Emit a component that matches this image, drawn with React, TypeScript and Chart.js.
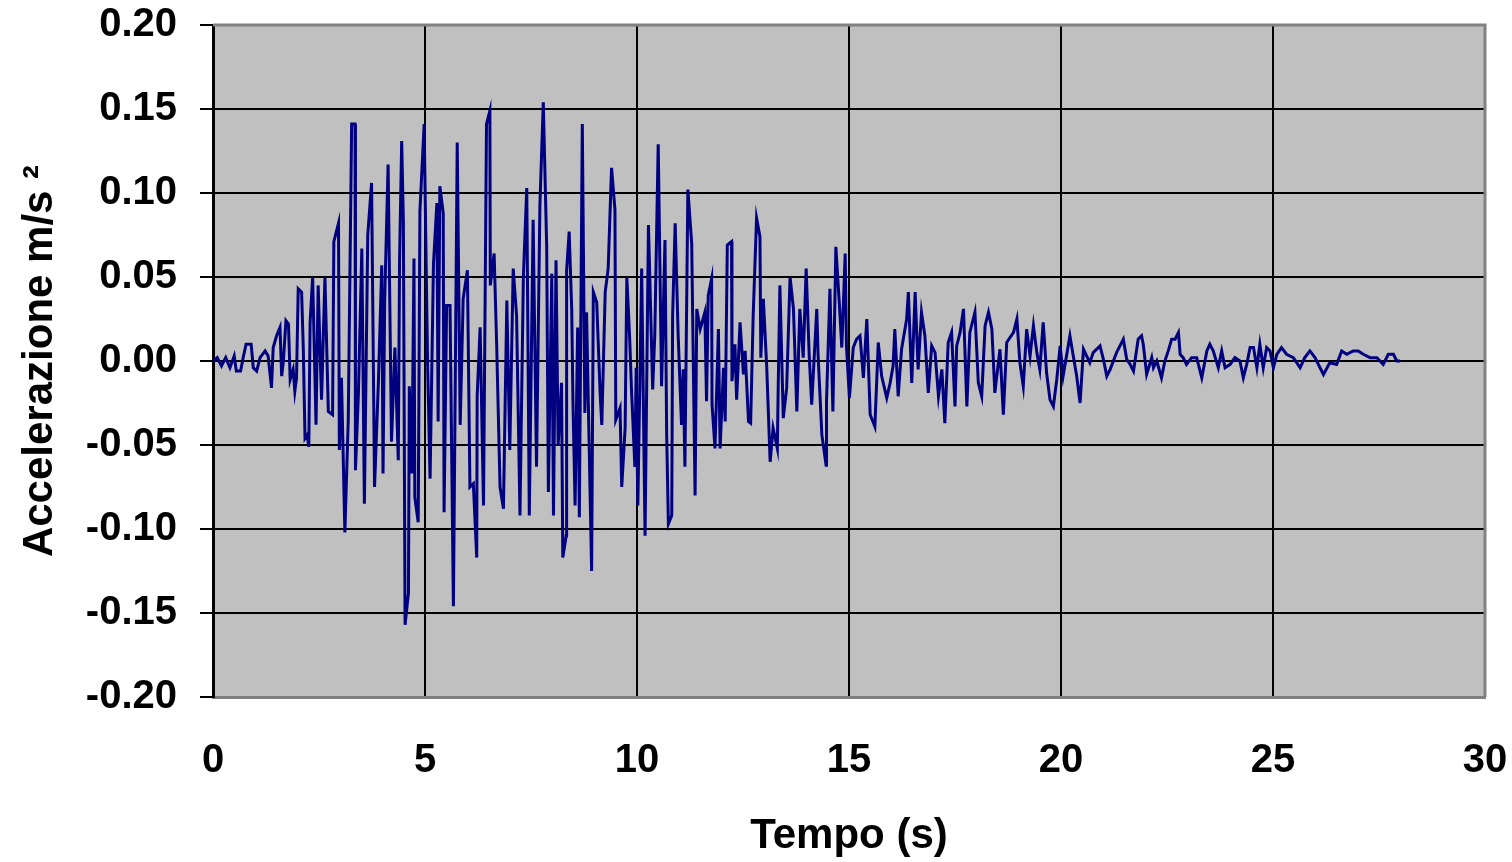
import { useEffect, useRef } from "react";
import { Chart, registerables } from "chart.js";

Chart.register(...registerables);

const FONT = "'Liberation Sans', Arial, Helvetica, sans-serif";

// Accelerogramma: coppie [tempo (s), accelerazione (m/s²)], suddivise per fase.
const quieteIniziale: [number, number][] = [
  [0.0, 0.0], [0.1, 0.002], [0.2, -0.003], [0.3, 0.002], [0.4, -0.004], [0.5, 0.003],
  [0.55, -0.006], [0.65, -0.006], [0.72, 0.003], [0.78, 0.01], [0.9, 0.01], [0.95, -0.004],
  [1.03, -0.006], [1.11, 0.002], [1.23, 0.006], [1.3, 0.003], [1.38, -0.016], [1.42, 0.008],
  [1.5, 0.015], [1.58, 0.02], [1.62, -0.009], [1.66, 0.0], [1.72, 0.024], [1.78, 0.022],
  [1.82, -0.011], [1.89, -0.005], [1.93, -0.018], [1.97, -0.01],
];

const arrivoOnde: [number, number][] = [
  [2.01, 0.043], [2.09, 0.041], [2.13, 0.007], [2.17, -0.046], [2.22, -0.044], [2.26, -0.051],
  [2.29, 0.023], [2.35, 0.05], [2.43, -0.038], [2.48, 0.045], [2.56, -0.023], [2.64, 0.05],
  [2.72, -0.03], [2.82, -0.032], [2.85, 0.071], [2.96, 0.082], [2.98, -0.053], [3.03, -0.01],
  [3.11, -0.102], [3.19, -0.035], [3.27, 0.141], [3.35, 0.141], [3.36, -0.065], [3.43, -0.019],
  [3.51, 0.067], [3.57, -0.085], [3.65, 0.075], [3.74, 0.106], [3.81, -0.075], [3.9, -0.013],
];

const faseForte1: [number, number][] = [
  [3.98, 0.057], [4.01, -0.067], [4.05, 0.037], [4.13, 0.117], [4.21, -0.048], [4.29, 0.008],
  [4.37, -0.059], [4.4, 0.06], [4.45, 0.131], [4.49, 0.083], [4.53, -0.157], [4.61, -0.138],
  [4.63, -0.015], [4.69, -0.067], [4.74, 0.061], [4.76, -0.081], [4.84, -0.096], [4.88, 0.089],
  [4.98, 0.141], [5.06, 0.0], [5.12, -0.07], [5.2, 0.058], [5.28, 0.094], [5.31, -0.036],
  [5.35, 0.104], [5.43, 0.088], [5.45, -0.09], [5.51, 0.033], [5.59, 0.033], [5.67, -0.146],
  [5.76, 0.13], [5.83, -0.038], [5.9, 0.037], [6.0, 0.054], [6.06, -0.075], [6.14, -0.073],
  [6.22, -0.117], [6.23, -0.021], [6.3, 0.02], [6.38, -0.086], [6.45, 0.141], [6.53, 0.149],
  [6.54, 0.045], [6.63, 0.064], [6.69, 0.01], [6.77, -0.075], [6.85, -0.088], [6.93, 0.036],
  [7.0, -0.053], [7.08, 0.055], [7.16, 0.027], [7.24, -0.092], [7.32, 0.05], [7.4, 0.103],
  [7.46, -0.092], [7.55, 0.084], [7.63, -0.063], [7.71, 0.093],
];

const faseForte2: [number, number][] = [
  [7.79, 0.154], [7.87, 0.068], [7.91, -0.078], [7.99, 0.052], [8.03, -0.092], [8.09, 0.06],
  [8.14, -0.05], [8.22, -0.013], [8.25, -0.117], [8.33, -0.104], [8.34, 0.054], [8.4, 0.077],
  [8.46, 0.031], [8.49, -0.025], [8.54, -0.086], [8.6, 0.02], [8.64, -0.093], [8.71, 0.141],
  [8.77, -0.031], [8.81, 0.029], [8.93, -0.125], [8.97, 0.041], [9.05, 0.035], [9.13, -0.019],
  [9.17, -0.038], [9.25, 0.041], [9.32, 0.055], [9.4, 0.115], [9.48, 0.09], [9.5, -0.035],
  [9.6, -0.028], [9.64, -0.075], [9.72, -0.04], [9.76, 0.05], [9.83, 0.012], [9.87, -0.017],
  [9.95, -0.063], [9.98, -0.004], [10.02, -0.086], [10.11, 0.055], [10.19, -0.104], [10.27, 0.081],
  [10.37, -0.017], [10.42, 0.016], [10.5, 0.129], [10.58, -0.015], [10.66, 0.072], [10.7, -0.044],
  [10.74, -0.097], [10.82, -0.092], [10.84, 0.027], [10.9, 0.082], [10.97, 0.016], [11.05, -0.038],
  [11.09, -0.005], [11.13, -0.063], [11.2, 0.102], [11.29, 0.07], [11.37, -0.08],
];

const faseMedia: [number, number][] = [
  [11.41, 0.031], [11.49, 0.019], [11.6, 0.029], [11.64, -0.024], [11.68, 0.039], [11.76, 0.049],
  [11.77, -0.026], [11.84, -0.052], [11.92, 0.019], [11.96, -0.052], [12.04, -0.004], [12.08, -0.036],
  [12.13, 0.069], [12.23, 0.071], [12.24, -0.012], [12.31, 0.01], [12.35, -0.023], [12.43, 0.023],
  [12.51, -0.008], [12.55, 0.006], [12.63, -0.036], [12.68, -0.037], [12.74, 0.027], [12.82, 0.085],
  [12.9, 0.074], [12.92, 0.002], [12.98, 0.037], [13.06, -0.004], [13.14, -0.06], [13.21, -0.04],
  [13.31, -0.052], [13.33, -0.016], [13.37, 0.045], [13.45, -0.034], [13.53, -0.016], [13.61, 0.05],
  [13.69, 0.031], [13.77, -0.03], [13.84, 0.031], [13.92, 0.002], [13.99, 0.055], [14.06, 0.004],
  [14.12, -0.026], [14.24, 0.031], [14.27, 0.004], [14.36, -0.044], [14.46, -0.062], [14.47, -0.024],
  [14.55, 0.043], [14.62, -0.03], [14.69, 0.068], [14.77, 0.035], [14.83, 0.008], [14.91, 0.064],
  [14.94, 0.009], [15.01, -0.022], [15.1, 0.008], [15.18, 0.013], [15.26, 0.015], [15.34, -0.01],
  [15.42, 0.025], [15.5, -0.032],
];

const coda: [number, number][] = [
  [15.61, -0.039], [15.69, 0.011], [15.77, -0.009], [15.89, -0.022], [15.97, -0.013], [16.04, -0.003],
  [16.08, 0.019], [16.16, -0.021], [16.24, 0.007], [16.36, 0.025], [16.4, 0.041], [16.48, -0.013],
  [16.56, 0.041], [16.63, -0.005], [16.71, 0.029], [16.79, 0.015], [16.87, -0.019], [16.95, 0.009],
  [17.03, 0.005], [17.11, -0.021], [17.19, -0.005], [17.26, -0.037], [17.34, 0.011], [17.42, 0.017],
  [17.5, -0.027], [17.54, 0.009], [17.62, 0.017], [17.7, 0.031], [17.78, -0.027], [17.85, 0.017],
  [17.97, 0.029], [18.05, -0.013], [18.13, -0.021], [18.21, 0.021], [18.29, 0.029], [18.37, 0.019],
  [18.44, -0.019], [18.56, 0.007], [18.64, -0.032], [18.72, 0.011], [18.88, 0.017], [18.96, 0.025],
  [19.03, -0.001], [19.11, -0.015], [19.19, 0.019], [19.27, 0.003], [19.35, 0.021], [19.43, 0.005],
  [19.5, -0.005], [19.58, 0.023], [19.66, -0.007], [19.74, -0.023], [19.82, -0.027], [19.9, -0.011],
  [19.98, 0.009], [20.05, -0.009], [20.21, 0.015], [20.29, 0.003], [20.37, -0.009], [20.45, -0.025],
  [20.53, 0.007], [20.68, -0.001], [20.76, 0.005], [20.92, 0.009], [21.0, 0.001], [21.08, -0.009],
  [21.16, -0.005], [21.31, 0.005], [21.47, 0.013], [21.55, 0.001],
];

const quieteFinale: [number, number][] = [
  [21.63, -0.002], [21.71, -0.006], [21.82, 0.013], [21.9, 0.015], [21.94, 0.01], [22.02, -0.008],
  [22.14, 0.002], [22.18, -0.004], [22.26, 0.0], [22.37, -0.01], [22.45, 0.0], [22.53, 0.006],
  [22.61, 0.013], [22.69, 0.013], [22.77, 0.017], [22.81, 0.004], [22.88, 0.002], [22.96, -0.002],
  [23.08, 0.002], [23.2, 0.002], [23.32, -0.01], [23.44, 0.006], [23.51, 0.01], [23.59, 0.006],
  [23.71, -0.004], [23.79, 0.006], [23.87, -0.004], [23.99, -0.002], [24.1, 0.002], [24.22, 0.0],
  [24.3, -0.01], [24.38, -0.002], [24.46, 0.008], [24.54, 0.008], [24.62, -0.004], [24.69, 0.01],
  [24.77, -0.004], [24.85, 0.008], [24.93, 0.006], [25.01, -0.004], [25.09, 0.004], [25.2, 0.008],
  [25.32, 0.004], [25.48, 0.002], [25.64, -0.004], [25.75, 0.002], [25.87, 0.006], [25.99, 0.002],
  [26.11, -0.004], [26.19, -0.008], [26.34, -0.001], [26.5, -0.002], [26.62, 0.006], [26.74, 0.004],
  [26.89, 0.006], [27.01, 0.006], [27.13, 0.004], [27.29, 0.002], [27.45, 0.002], [27.6, -0.002],
  [27.72, 0.004], [27.84, 0.004], [27.92, 0.0], [28.0, 0.0],
];

const X_TICKS = [0, 5, 10, 15, 20, 25, 30];
const Y_TICKS = [-0.2, -0.15, -0.1, -0.05, 0, 0.05, 0.1, 0.15, 0.2];

const X_TITLE = "Tempo (s)";
const Y_TITLE = "Accelerazione m/s ²";

// Grey plot area, with grey frame on top and right like a spreadsheet chart.
const plotFrame = {
  id: "plotFrame",
  beforeDraw(chart: any) {
    const { ctx, chartArea } = chart;
    ctx.save();
    ctx.fillStyle = "#C0C0C0";
    ctx.fillRect(chartArea.left, chartArea.top, chartArea.right - chartArea.left, chartArea.bottom - chartArea.top);
    ctx.restore();
  },
  afterDatasetsDraw(chart: any) {
    const { ctx, chartArea } = chart;
    ctx.save();
    ctx.strokeStyle = "#808080";
    ctx.lineWidth = 3;
    ctx.beginPath();
    ctx.moveTo(chartArea.left, chartArea.top);
    ctx.lineTo(chartArea.right, chartArea.top);
    ctx.lineTo(chartArea.right, chartArea.bottom);
    ctx.stroke();
    ctx.restore();
  },
};

// Label overflow is handled by the layout padding alone.
function clearScalePadding(scale: any) {
  scale.paddingTop = 0;
  scale.paddingBottom = 0;
  scale.paddingLeft = 0;
  scale.paddingRight = 0;
}

export default function App() {
  const canvasRef = useRef<HTMLCanvasElement | null>(null);

  useEffect(() => {
    const canvas = canvasRef.current;
    if (!canvas) return;
    const record = [
      ...quieteIniziale,
      ...arrivoOnde,
      ...faseForte1,
      ...faseForte2,
      ...faseMedia,
      ...coda,
      ...quieteFinale,
    ];
    const points = record.map(([t, a]) => ({ x: t, y: a }));

    const chart = new Chart(canvas, {
      type: "line",
      data: {
        datasets: [
          {
            data: points,
            borderColor: "#000080",
            borderWidth: 3,
            pointRadius: 0,
            tension: 0,
            fill: false,
          },
        ],
      },
      options: {
        responsive: false,
        animation: false,
        layout: { padding: { top: 25, right: 27, bottom: 0, left: 0 } },
        plugins: {
          legend: { display: false },
          tooltip: { enabled: false },
        },
        scales: {
          x: {
            type: "linear",
            min: 0,
            max: 30,
            afterBuildTicks: (scale: any) => {
              scale.ticks = X_TICKS.map((v) => ({ value: v }));
            },
            ticks: {
              color: "#000",
              font: { family: FONT, size: 40, weight: "bold" },
              padding: 40,
              maxRotation: 0,
              callback: (v: any) => String(v),
            },
            grid: {
              color: (c: any) => (c.tick && c.tick.value === 30 ? "#808080" : "#000"),
              lineWidth: 2,
              drawTicks: false,
            },
            border: { color: "#808080", width: 3 },
            title: {
              display: true,
              text: X_TITLE,
              color: "#000",
              font: { family: FONT, size: 42, weight: "bold" },
              padding: { top: 0, bottom: 0 },
            },
            afterFit: (scale: any) => {
              scale.height = 165;
              clearScalePadding(scale);
            },
          },
          y: {
            type: "linear",
            min: -0.2,
            max: 0.2,
            afterBuildTicks: (scale: any) => {
              scale.ticks = Y_TICKS.map((v) => ({ value: v }));
            },
            ticks: {
              color: "#000",
              font: { family: FONT, size: 40, weight: "bold" },
              padding: 23,
              callback: (v: any) => (Math.abs(Number(v)) < 1e-9 ? "0.00" : Number(v).toFixed(2)),
            },
            grid: {
              color: "#000",
              lineWidth: 2,
              tickLength: 13,
            },
            border: { color: "#000", width: 3 },
            title: {
              display: true,
              text: Y_TITLE,
              color: "#000",
              font: { family: FONT, size: 42, weight: "bold" },
              padding: { top: 15, bottom: 0 },
            },
            afterFit: (scale: any) => {
              scale.width = 213;
              clearScalePadding(scale);
            },
          },
        },
      },
      plugins: [plotFrame],
    });

    return () => chart.destroy();
  }, []);

  return (
    <div style={{ position: "fixed", left: 0, top: 0, width: 1512, height: 862, background: "#fff" }}>
      <canvas ref={canvasRef} width={1512} height={862} />
    </div>
  );
}
